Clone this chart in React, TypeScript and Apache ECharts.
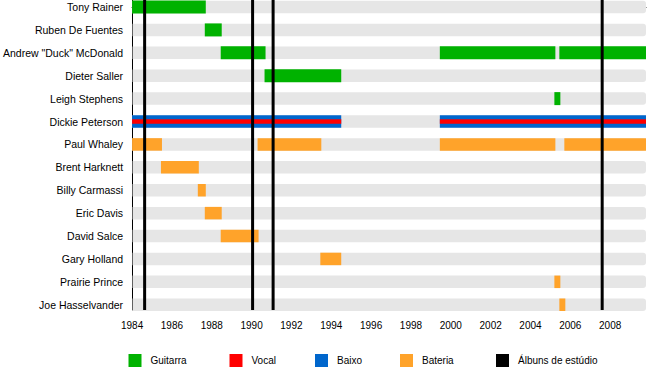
import React, { useEffect, useRef } from "react";
import * as echarts from "echarts";

const members = [
  "Tony Rainer",
  "Ruben De Fuentes",
  'Andrew "Duck" McDonald',
  "Dieter Saller",
  "Leigh Stephens",
  "Dickie Peterson",
  "Paul Whaley",
  "Brent Harknett",
  "Billy Carmassi",
  "Eric Davis",
  "David Salce",
  "Gary Holland",
  "Prairie Prince",
  "Joe Hasselvander",
];

const timelineStart = 1984;
const timelineEnd = 2009.8;
const yearTicks = [1984, 1986, 1988, 1990, 1992, 1994, 1996, 1998, 2000, 2002, 2004, 2006, 2008];

const guitarra: [string, number, number][] = [
  ["Tony Rainer", 1984.0, 1987.7],
  ["Ruben De Fuentes", 1987.65, 1988.5],
  ['Andrew "Duck" McDonald', 1988.45, 1990.7],
  ['Andrew "Duck" McDonald', 1999.45, 2005.25],
  ['Andrew "Duck" McDonald', 2005.45, 2009.8],
  ["Dieter Saller", 1990.65, 1994.5],
  ["Leigh Stephens", 2005.2, 2005.5],
];

const vocal: [string, number, number][] = [
  ["Dickie Peterson", 1984.0, 1994.5],
  ["Dickie Peterson", 1999.45, 2009.8],
];

const baixo: [string, number, number][] = [
  ["Dickie Peterson", 1984.0, 1994.5],
  ["Dickie Peterson", 1999.45, 2009.8],
];

const bateria: [string, number, number][] = [
  ["Paul Whaley", 1984.0, 1985.5],
  ["Paul Whaley", 1990.3, 1993.5],
  ["Paul Whaley", 1999.45, 2005.25],
  ["Paul Whaley", 2005.7, 2009.8],
  ["Brent Harknett", 1985.45, 1987.35],
  ["Billy Carmassi", 1987.3, 1987.7],
  ["Eric Davis", 1987.65, 1988.5],
  ["David Salce", 1988.45, 1990.35],
  ["Gary Holland", 1993.45, 1994.5],
  ["Prairie Prince", 2005.2, 2005.5],
  ["Joe Hasselvander", 2005.45, 2005.75],
];

const albuns = [1984.63, 1990.05, 1991.08, 2007.6];

const FONT = "'Liberation Sans', Arial, Helvetica, sans-serif";
const rowIdx = members.map((_, i) => i);

function barSeries(name: string, rows: [string, number, number][], color: string, h: number, z: number) {
  return {
    type: "custom",
    name,
    z,
    itemStyle: { color },
    encode: { x: [1, 2], y: 0 },
    data: rows.map(([n, s, e]) => [members.indexOf(n), s, e]),
    renderItem: (params: any, api: any) => {
      const a = api.coord([api.value(1), api.value(0)]);
      const b = api.coord([api.value(2), api.value(0)]);
      return {
        type: "rect",
        shape: { x: a[0], y: a[1] - h / 2, width: b[0] - a[0], height: h },
        style: { fill: color },
      };
    },
  };
}

export default function App() {
  const ref = useRef<HTMLDivElement>(null);
  useEffect(() => {
    const chart = echarts.init(ref.current!, null, { renderer: "svg" });
    const legendDefs: [string, number][] = [
      ["Guitarra", 128.5],
      ["Vocal", 229.5],
      ["Baixo", 315],
      ["Bateria", 400],
      ["Álbuns de estúdio", 496],
    ];
    chart.setOption({
      animation: false,
      textStyle: { fontFamily: FONT },
      grid: { left: 130, right: 4, top: 0, height: 310 },
      xAxis: {
        type: "value",
        min: timelineStart,
        max: timelineEnd,
        position: "bottom",
        splitLine: { show: false },
        axisLine: { show: true, lineStyle: { color: "#000", width: 1 } },
        axisTick: { show: true, length: 6, customValues: yearTicks, lineStyle: { color: "#000" } },
        axisLabel: {
          customValues: yearTicks,
          formatter: (v: number) => String(v),
          fontSize: 10,
          color: "#000",
          margin: 10,
          fontFamily: FONT,
        },
      },
      yAxis: {
        type: "value",
        min: -0.306,
        max: 13.23,
        inverse: true,
        axisLine: { show: true, lineStyle: { color: "#000", width: 1 } },
        axisTick: { show: false, customValues: rowIdx },
        splitLine: { show: false },
        axisLabel: {
          customValues: rowIdx,
          formatter: (v: number) => members[Math.round(v)] ?? "",
          fontSize: 10.5,
          color: "#000",
          margin: 9,
          fontFamily: FONT,
        },
      },
      legend: legendDefs.map(([name, left]) => ({
        data: [name],
        left,
        top: 354,
        itemWidth: 13,
        itemHeight: 13,
        icon: "rect",
        itemGap: 0,
        padding: 0,
        textStyle: { fontSize: 10, color: "#000", fontFamily: FONT, padding: [0, 0, 0, 4] },
      })),
      series: [
        {
          type: "custom",
          name: "fundo",
          z: 1,
          encode: { x: [1, 2], y: 0 },
          data: members.map((_, i) => [i, timelineStart, timelineEnd]),
          renderItem: (params: any, api: any) => {
            const a = api.coord([api.value(1), api.value(0)]);
            const b = api.coord([api.value(2), api.value(0)]);
            const h = 12.5;
            return {
              type: "rect",
              shape: { x: a[0] + 0.5, y: a[1] - h / 2, width: b[0] - a[0] - 0.5, height: h, r: [0, 3, 3, 0] },
              style: { fill: "#e6e6e6" },
            };
          },
        },
        barSeries("Guitarra", guitarra, "#00b200", 13, 2),
        barSeries("Baixo", baixo, "#0066cc", 12.5, 2),
        barSeries("Vocal", vocal, "#ff0000", 4.5, 3),
        barSeries("Bateria", bateria, "#ffa32a", 12.5, 2),
        {
          type: "custom",
          name: "Álbuns de estúdio",
          z: 5,
          itemStyle: { color: "#000" },
          encode: { x: 0 },
          data: albuns.map((y) => [y]),
          renderItem: (params: any, api: any) => {
            const x = api.coord([api.value(0), 0])[0];
            const cs = params.coordSys;
            return {
              type: "line",
              shape: { x1: x, y1: cs.y, x2: x, y2: cs.y + cs.height },
              style: { stroke: "#000", lineWidth: 3 },
            };
          },
        },
      ],
    });
    return () => chart.dispose();
  }, []);
  return <div ref={ref} style={{ position: "absolute", left: 0, top: 0, width: 650, height: 380 }} />;
}
